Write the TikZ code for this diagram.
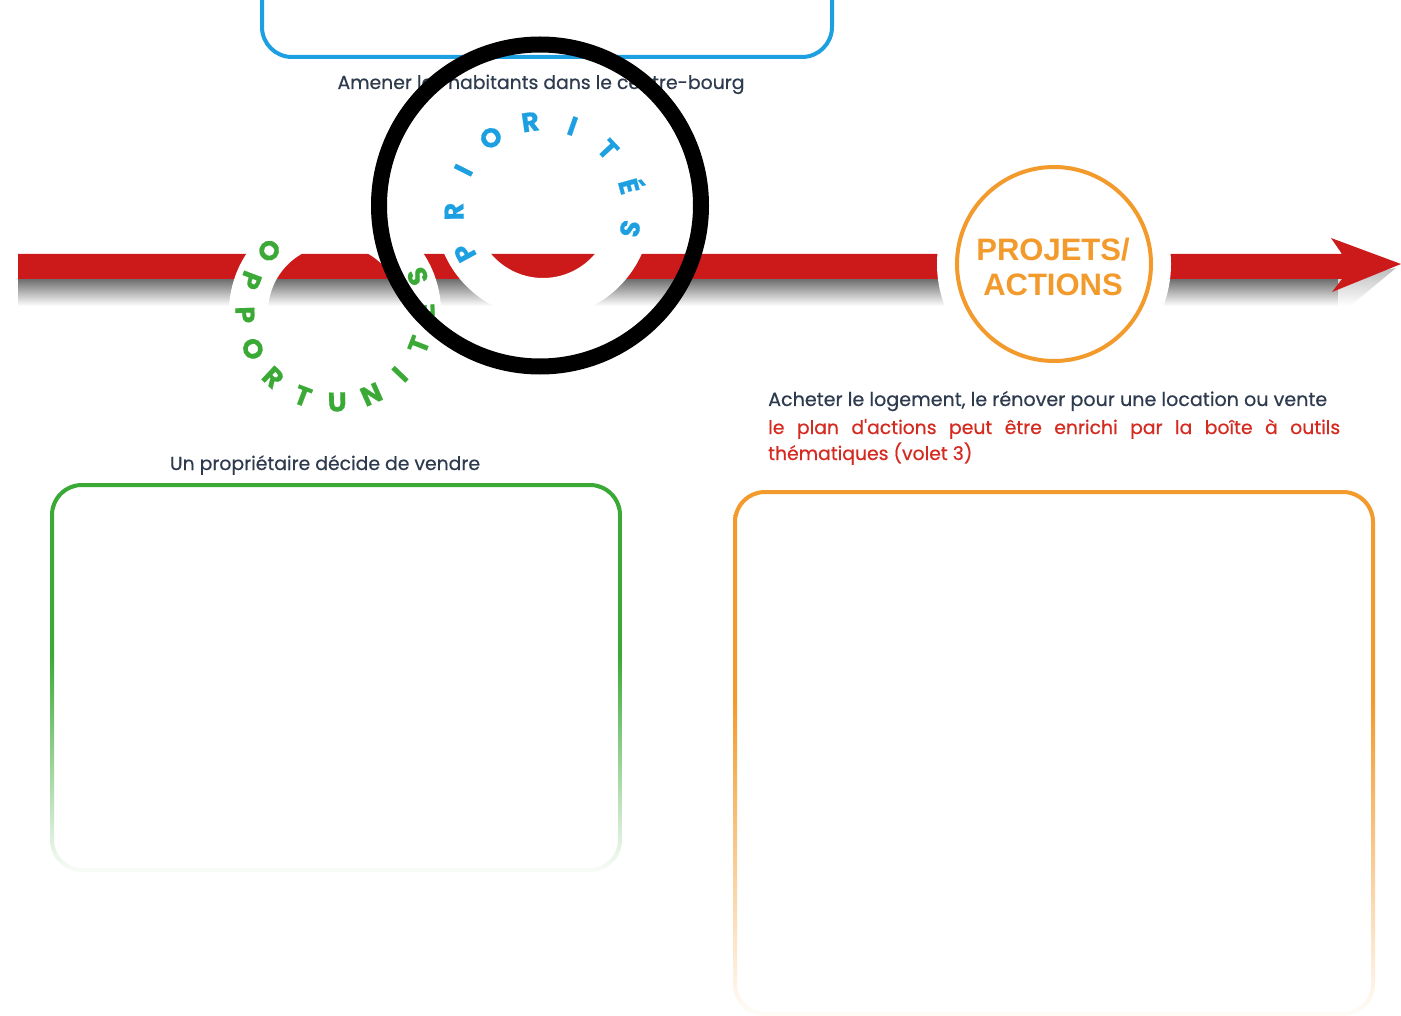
\documentclass[tikz,border=0pt]{standalone}
\usepackage{fontspec}
\setmainfont{Poppins}
\newfontfamily\bodyfont{Poppins}[FakeBold=0.5]
\newfontfamily\headfont{Liberation Sans}
\newfontfamily\ringfont{Poppins}[FakeBold=0.6]
\usetikzlibrary{calc}
\definecolor{cblue}{HTML}{1DA0E2}
\definecolor{cgreen}{HTML}{3AA935}
\definecolor{corange}{HTML}{F39A2C}
\definecolor{bandred}{HTML}{CC1A1A}
\definecolor{cdark}{HTML}{2E3B4E}
\definecolor{credtext}{HTML}{D42A1F}
\definecolor{shadowgray}{HTML}{6E6E6E}
\pgfdeclareverticalshading{greenfade}{100bp}{color(0bp)=(cgreen!3); color(25bp)=(cgreen!3); color(53bp)=(cgreen); color(100bp)=(cgreen)}
\pgfdeclareverticalshading{orangefade}{100bp}{color(0bp)=(corange!3); color(25bp)=(corange!3); color(55bp)=(corange); color(100bp)=(corange)}
\begin{document}
\begin{tikzpicture}[x=1pt,y=-1pt,
  body/.style={font=\bodyfont\fontsize{18.8}{22}\selectfont, text=cdark, inner sep=0pt},
  redtext/.style={font=\bodyfont\fontsize{18.8}{22}\selectfont, text=credtext, inner sep=0pt},
  ringletter/.style={font=\ringfont\bfseries\fontsize{27}{27}\selectfont, inner sep=0pt, text height=19pt, text depth=0pt, anchor=center},
  headtext/.style={font=\headfont\bfseries\fontsize{31}{31}\selectfont, text=corange, inner sep=0pt}]
\fill[white] (0,0) rectangle (1401,1016);
\useasboundingbox (0,0) rectangle (1401,1016);

% key centres
\coordinate (pc) at (543,210);
\coordinate (oc) at (335,312);
\coordinate (ac) at (1054,264);
\coordinate (bc) at (540,205.5);

% top blue box
\draw[cblue, line width=4pt, rounded corners=30pt] (262,-60) rectangle (832,57);
\node[body, anchor=base] (amener) at (541,89) {Amener les habitants dans le centre-bourg};

% shadow of the timeline
\shade[top color=shadowgray, bottom color=white] (18,279) rectangle (1345,306);
\shade[top color=shadowgray!45, bottom color=white] (1338,279) -- (1396,268) -- (1350,306) -- (1338,306) -- cycle;
% red timeline arrow
\fill[bandred] (18,254) -- (1342,254) -- (1331,238) -- (1401,264) -- (1332,292) -- (1342,279) -- (18,279) -- cycle;

% white rings cut into the timeline
\fill[white, even odd rule] (oc) circle[radius=106pt] (oc) circle[radius=67pt];
\fill[white, even odd rule] (pc) circle[radius=108pt] (pc) circle[radius=68pt];
\fill[white] (ac) circle[radius=117pt];

% OPPORTUNITES ring
\foreach \l/\a [count=\i] in {O/137, P/159.4, P/181.8, O/204.2, R/226.6, T/249, U/271.4, N/293.8, I/316.2, T/338.6, É/361, S/383.4}
  \node[ringletter, text=cgreen, rotate=\a+90] (o\i) at ($(oc)+(\a:90pt)$) {\l};

% PRIORITES ring
\foreach \l/\a [count=\i] in {P/208.6, R/181, I/153.4, O/125.8, R/98.2, I/70.6, T/43, É/15.4, S/-12.2}
  \node[ringletter, text=cblue, rotate=\a-90] (p\i) at ($(pc)+(\a:89pt)$) {\l};

% PROJETS / ACTIONS circle
\draw[corange, line width=4pt] (ac) circle[radius=97pt];
\node[headtext, anchor=base] (proj) at (1053,261) {PROJETS/};
\node[headtext, anchor=base] (act) at (1053,296) {ACTIONS};

% left green box
\node[body, anchor=base] (vendre) at (325,470) {Un propriétaire décide de vendre};
\shade[shading=greenfade, even odd rule, rounded corners=32pt] (50,483) rectangle (622,872)
  [rounded corners=28pt] (54,487) rectangle (618,868);

% right orange box
\node[body, anchor=base west, font=\bodyfont\fontsize{19.1}{22}\selectfont] (acheter) at (768,406) {Acheter le logement, le rénover pour une location ou vente};
\node[redtext, anchor=base west] (plan1) at (768,434) {\makebox[572pt][s]{le plan d'actions peut être enrichi par la boîte à outils}};
\node[redtext, anchor=base west] (plan2) at (768,460) {thématiques (volet 3)};
\shade[shading=orangefade, even odd rule, rounded corners=32pt] (733,490) rectangle (1375,1016)
  [rounded corners=28pt] (737,494) rectangle (1371,1012);

% black highlight circle
\draw[black, line width=16pt] (bc) circle[radius=161pt];
\end{tikzpicture}
\end{document}
